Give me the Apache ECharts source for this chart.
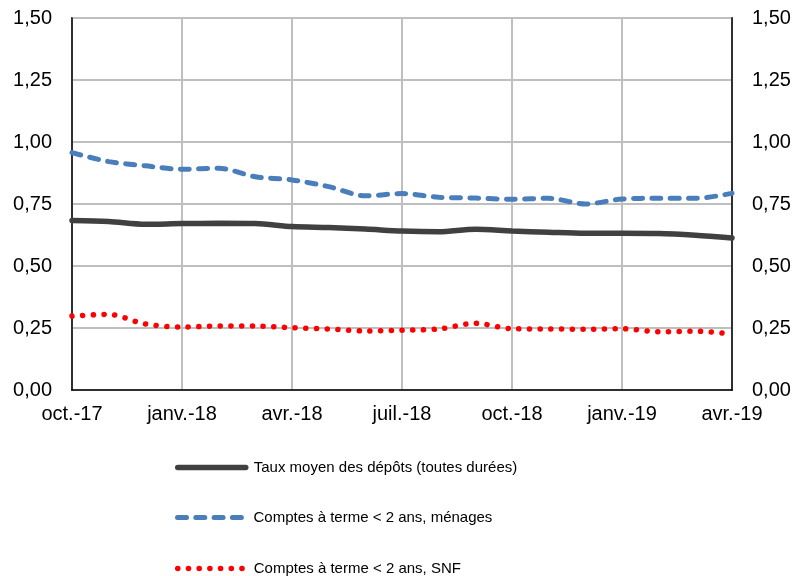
<!DOCTYPE html>
<html>
<head>
<meta charset="utf-8">
<script src="https://cdn.jsdelivr.net/npm/echarts@6/dist/echarts.min.js"></script>
<style>html,body{margin:0;padding:0;background:#fff;}#c{width:794px;height:576px;}</style>
</head>
<body>
<div id="c"></div>
<script>
var months = ['oct.-17','nov.-17','déc.-17','janv.-18','févr.-18','mars-18','avr.-18','mai-18','juin-18','juil.-18','août-18','sept.-18','oct.-18','nov.-18','déc.-18','janv.-19','févr.-19','mars-19','avr.-19'];
var tauxMoyen = [0.683,0.679,0.668,0.671,0.672,0.671,0.659,0.655,0.649,0.641,0.638,0.648,0.641,0.636,0.632,0.632,0.631,0.624,0.613];
var menages = [0.957,0.921,0.904,0.890,0.894,0.860,0.847,0.820,0.783,0.792,0.777,0.774,0.769,0.773,0.750,0.770,0.773,0.773,0.793];
var snf = [0.298,0.305,0.266,0.254,0.258,0.258,0.251,0.246,0.238,0.241,0.246,0.269,0.247,0.246,0.245,0.247,0.235,0.237,0.226];
var seriesNames = ['Taux moyen des dépôts (toutes durées)','Comptes à terme < 2 ans, ménages','Comptes à terme < 2 ans, SNF'];

var fmt = function(v){ return v.toFixed(2).replace('.', ','); };
var chart = echarts.init(document.getElementById('c'), null, {renderer:'canvas'});
var font = 'Liberation Sans, Arial, sans-serif';
var yCommon = {
  type:'value', min:0, max:1.5, interval:0.25,
  axisLine:{show:true, lineStyle:{color:'#000', width:1.5}},
  axisTick:{show:false},
  axisLabel:{formatter:fmt, color:'#000', fontSize:20, fontFamily:font, margin:20}
};
var legendTops = [455, 505, 556];
var legends = seriesNames.map(function(n, i){
  return {
    orient:'vertical', left:170, top:legendTops[i], itemWidth:68, itemHeight:14, itemGap:0,
    itemStyle:{opacity:0},
    lineStyle:{width:'inherit', type:'inherit', cap:'inherit'},
    textStyle:{color:'#000', fontSize:15, fontFamily:font, padding:[0,0,0,3]},
    data:[n]
  };
});
chart.setOption({
  animation:false,
  grid:{left:72, right:62, top:18, bottom:186, show:true, borderColor:'#000', borderWidth:1.5},
  xAxis:{
    type:'category', data:months, boundaryGap:false,
    axisLine:{show:true, lineStyle:{color:'#000', width:1.5}},
    axisTick:{show:false},
    axisLabel:{interval:2, color:'#000', fontSize:20, fontFamily:font, margin:14},
    splitLine:{show:true, interval:2, lineStyle:{color:'#BFBFBF', width:2}}
  },
  yAxis:[
    Object.assign({}, yCommon, {position:'left', splitLine:{show:true, lineStyle:{color:'#BFBFBF', width:2}}}),
    Object.assign({}, yCommon, {position:'right', splitLine:{show:false}})
  ],
  legend:legends,
  series:[
    {name:seriesNames[0], type:'line', data:tauxMoyen, smooth:0.3, symbol:'none', z:3,
     lineStyle:{color:'#404040', width:5.5, cap:'round'}, itemStyle:{color:'#404040'}},
    {name:seriesNames[1], type:'line', data:menages, smooth:0.3, symbol:'none', z:4,
     lineStyle:{color:'#4A7EBB', width:5, type:[9,9.3], cap:'round'}, itemStyle:{color:'#4A7EBB'}},
    {name:seriesNames[2], type:'line', data:snf, smooth:0.3, symbol:'none', z:5,
     lineStyle:{color:'#FF0000', width:5.5, type:[0.1,10.6], cap:'round'}, itemStyle:{color:'#FF0000'}}
  ]
});
</script>
</body>
</html>
